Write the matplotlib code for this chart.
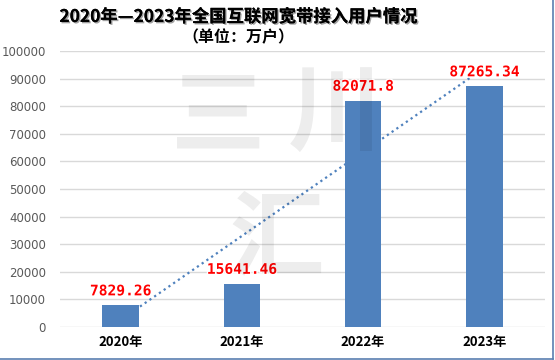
import numpy as np
import matplotlib
matplotlib.use("Agg")
import matplotlib.pyplot as plt
import matplotlib.patheffects as pe

plt.rcParams['font.family'] = ['Noto Sans CJK SC', 'DejaVu Sans']

# 数据
years = ["2020年", "2021年", "2022年", "2023年"]
users = [7829.26, 15641.46, 82071.8, 87265.34]
value_labels = ["7829.26", "15641.46", "82071.8", "87265.34"]
yticks = list(range(0, 100001, 10000))

fig = plt.figure(figsize=(5.55, 3.6), dpi=100)
ax = fig.add_axes([0.108, 0.092, 0.874, 0.766])

x = np.arange(len(years))
ax.bar(x, users, width=0.3, color='#4f81bd', zorder=3)

# 线性趋势线
k, b = np.polyfit(x, users, 1)
tx = np.array([0.16, 2.93])
ax.plot(tx, k * tx + b, linestyle=(0, (1, 1.6)), color='#4f81bd', lw=1.6, zorder=4)

for xi, v, lab in zip(x, users, value_labels):
    ax.annotate(lab, (xi, v), xytext=(0, 5), textcoords='offset points',
                ha='center', va='bottom', color='#ff0000', fontsize=10.5,
                fontweight='bold', family='DejaVu Sans Mono', zorder=6,
                path_effects=[pe.withStroke(linewidth=2, foreground='white')])

ax.set_xlim(-0.5, 3.5)
ax.set_ylim(0, 100000)
ax.set_yticks(yticks)
ax.set_yticklabels([str(t) for t in yticks], color='#595959', fontsize=8.5,
                   family='DejaVu Sans')
ax.set_xticks(x)
ax.set_xticklabels(years, fontsize=9.5, fontweight='bold', color='black')
ax.tick_params(length=0, pad=6)
ax.tick_params(axis='y', pad=10)
ax.grid(axis='y', color='#d9d9d9', lw=1, zorder=0)
for s in ax.spines.values():
    s.set_visible(False)

# 标题
fig.text(0.43, 0.953, "2020年—2023年全国互联网宽带接入用户情况", ha='center', va='center',
         fontsize=12.5, fontweight='bold', color='black',
         path_effects=[pe.withSimplePatchShadow(offset=(1, -1), shadow_rgbFace='#888888', alpha=0.8),
                       pe.Normal()])
fig.text(0.43, 0.896, "（单位：万户）", ha='center', va='center',
         fontsize=11.5, fontweight='bold', color='black')

# 水印
wm = dict(color='black', alpha=0.07, fontsize=68, ha='center', va='center',
          fontweight='bold', zorder=10)
fig.text(218 / 555, 1 - 118 / 360, "三", **wm)
fig.text(335 / 555, 1 - 115 / 360, "川", **wm)
fig.text(277 / 555, 1 - 240 / 360, "汇", **wm)

# 外框(右、下)
fig.add_artist(plt.Line2D([0, 0.997], [0.003, 0.003], color='#5a7fb0', lw=1.2))
fig.add_artist(plt.Line2D([0.997, 0.997], [0.003, 1], color='#5a7fb0', lw=1.2))

fig.savefig("out.png", dpi=100)
